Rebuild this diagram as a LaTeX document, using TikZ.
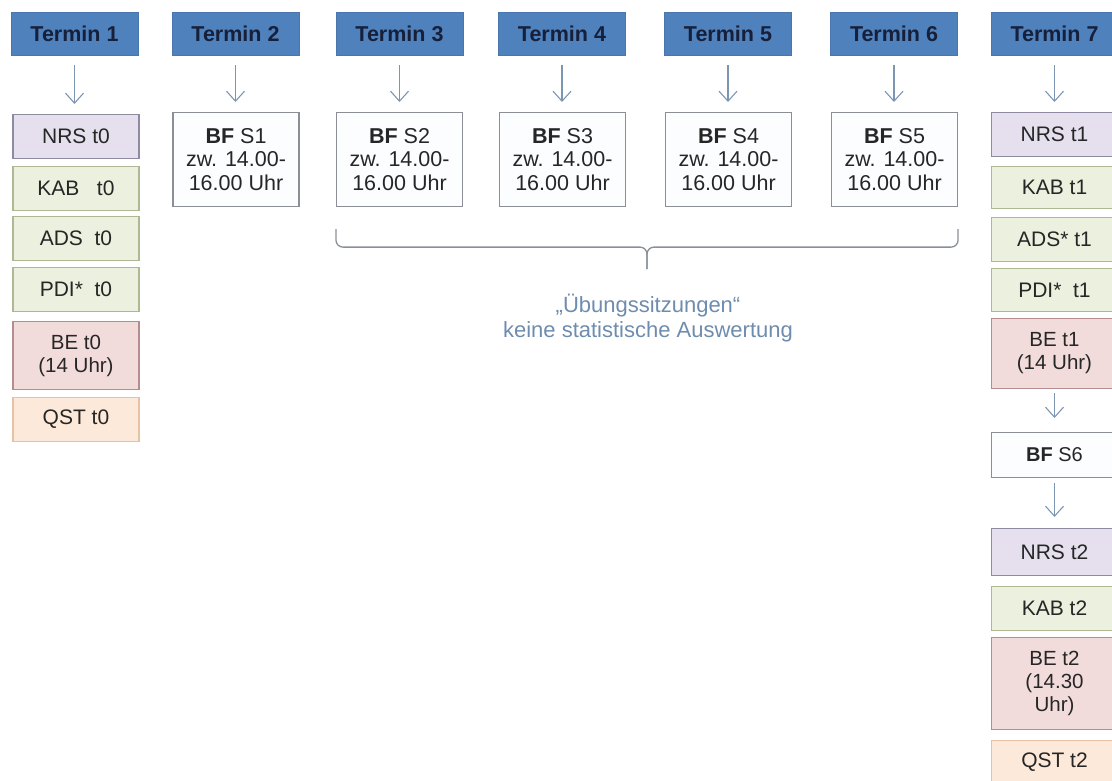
\documentclass[tikz,border=0pt]{standalone}
\usepackage{fontspec}
\setmainfont{Liberation Sans}
\usetikzlibrary{arrows.meta,calc}

\definecolor{hdrfill}{HTML}{4F81BD}
\definecolor{hdrline}{HTML}{4A76AD}
\definecolor{hdrtext}{HTML}{16203A}
\definecolor{boxtext}{HTML}{262626}
\definecolor{nrsfill}{HTML}{E6E0EE}
\definecolor{nrsline}{HTML}{8E8AA2}
\definecolor{kabfill}{HTML}{EBF1DE}
\definecolor{kabline}{HTML}{AEB994}
\definecolor{befill}{HTML}{F2DCDB}
\definecolor{beline}{HTML}{B48E8E}
\definecolor{qstfill}{HTML}{FDE9D9}
\definecolor{qstline}{HTML}{E3C3A3}
\definecolor{bffill}{HTML}{FBFDFF}
\definecolor{bfline}{HTML}{8A8F96}
\definecolor{arrowc}{HTML}{7C96B2}
\definecolor{notec}{HTML}{6E8CAE}

\begin{document}
\begin{tikzpicture}[x=1pt, y=-1pt,
    hdr/.style={draw=hdrline, fill=hdrfill, minimum width=127pt, minimum height=43pt, inner sep=0pt, text=hdrtext, font=\fontsize{21.5}{25}\selectfont\bfseries},
    box/.style={draw, line width=1.1pt, minimum width=126pt, minimum height=44pt, inner sep=1pt, anchor=north, align=center, text=boxtext, font=\fontsize{21}{24}\selectfont},
    nrs/.style={box, fill=nrsfill, draw=nrsline},
    kab/.style={box, fill=kabfill, draw=kabline},
    be/.style={box, fill=befill, draw=beline, font=\fontsize{20.5}{23}\selectfont},
    qst/.style={box, fill=qstfill, draw=qstline},
    bf/.style={box, fill=bffill, draw=bfline, font=\fontsize{21.5}{23.5}\selectfont},
    conn/.style={-{Straight Barb[length=10pt, width=18pt]}, line width=1.1pt, draw=arrowc, shorten <=10pt, shorten >=10pt},
    brc/.style={draw=bfline, line width=1.3pt, rounded corners=7pt},
    note/.style={align=center, text=notec, font=\fontsize{22}{25}\selectfont}
]
\clip (0,0) rectangle (1112,780);

% --- Header row: one blue box per Termin ---
\node[hdr] (t1) at (74.5,33.5)  {Termin 1};
\node[hdr] (t2) at (235.5,33.5) {Termin 2};
\node[hdr] (t3) at (399.5,33.5) {Termin 3};
\node[hdr] (t4) at (562,33.5)   {Termin 4};
\node[hdr] (t5) at (728,33.5)   {Termin 5};
\node[hdr] (t6) at (894,33.5)   {Termin 6};
\node[hdr] (t7) at (1054.5,33.5){Termin 7};

% --- Termin 1: baseline t0 ---
\node[nrs] (nrs0) at (76,114) {NRS t0};
\node[kab] (kab0) at (76,166) {KAB \ \ t0};
\node[kab] (ads0) at (76,216) {ADS \ t0};
\node[kab] (pdi0) at (76,267) {PDI* \ t0};
\node[be, minimum height=68pt] (be0) at (76,321) {BE t0\\(14 Uhr)};
\node[qst] (qst0) at (76,397) {QST t0};

% --- Termin 2-6: BF sessions ---
\node[bf, minimum height=94pt] (bf1) at (236,112)   {\textbf{BF} S1\\zw. 14.00-\\16.00 Uhr};
\node[bf, minimum height=94pt] (bf2) at (399.5,112) {\textbf{BF} S2\\zw. 14.00-\\16.00 Uhr};
\node[bf, minimum height=94pt] (bf3) at (562.5,112) {\textbf{BF} S3\\zw. 14.00-\\16.00 Uhr};
\node[bf, minimum height=94pt] (bf4) at (728.5,112) {\textbf{BF} S4\\zw. 14.00-\\16.00 Uhr};
\node[bf, minimum height=94pt] (bf5) at (894.5,112) {\textbf{BF} S5\\zw. 14.00-\\16.00 Uhr};

% --- Termin 7: t1, S6, t2 ---
\node[nrs] (nrs1) at (1054.5,112) {NRS t1};
\node[kab, minimum height=42pt] (kab1) at (1054.5,166) {KAB t1};
\node[kab] (ads1) at (1054.5,217) {ADS* t1};
\node[kab, minimum height=43pt] (pdi1) at (1054.5,268) {PDI* \ t1};
\node[be, minimum height=70pt] (be1) at (1054.5,318) {BE t1\\(14 Uhr)};
\node[bf, minimum height=45pt, font=\fontsize{20}{23}\selectfont] (bf6) at (1054.5,432) {\textbf{BF} S6};
\node[nrs, minimum height=47pt] (nrs2) at (1054.5,528) {NRS t2};
\node[kab] (kab2) at (1054.5,586) {KAB t2};
\node[be, minimum height=92pt] (be2) at (1054.5,637) {BE t2\\(14.30\\Uhr)};
\node[qst] (qst2) at (1054.5,740) {QST t2};

% === Arrows ===
\draw[conn] (t1.south) -- (t1.south |- nrs0.north);
\draw[conn] (t2.south) -- (t2.south |- bf1.north);
\draw[conn] (t3.south) -- (t3.south |- bf2.north);
\draw[conn] (t4.south) -- (t4.south |- bf3.north);
\draw[conn] (t5.south) -- (t5.south |- bf4.north);
\draw[conn] (t6.south) -- (t6.south |- bf5.north);
\draw[conn] (t7.south) -- (nrs1.north);
\draw[conn, shorten <=4pt, shorten >=14pt] (be1) -- (bf6);
\draw[conn, shorten <=5pt, shorten >=11pt] (bf6) -- (nrs2);

% === Brace under the practice sessions ===
\coordinate (bm) at ($(bf2.south west)!0.5!(bf5.south east) + (0,40)$);
\draw[brc] ([yshift=-22pt]bf2.south west) |- (bm) -- ++(0,22);
\draw[brc] ([yshift=-22pt]bf5.south east) |- (bm) -- ++(0,22);

\node[note] (note) at (648,318) {„Übungssitzungen“\\keine statistische Auswertung};

\end{tikzpicture}
\end{document}
